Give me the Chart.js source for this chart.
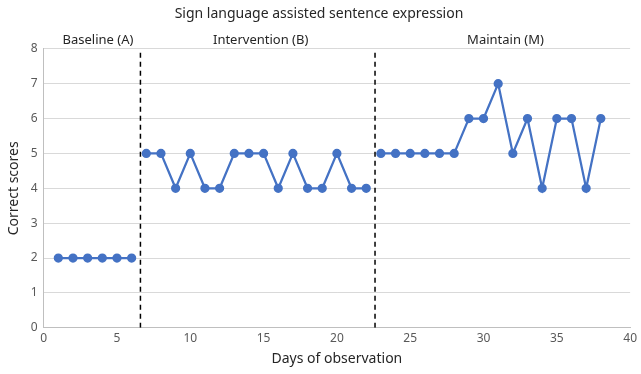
<!DOCTYPE html>
<html>
<head>
<meta charset="utf-8">
<script src="https://cdn.jsdelivr.net/npm/chart.js@4"></script>
<style>
  html, body { margin: 0; padding: 0; background: #fff; }
  #wrap { width: 641px; height: 374px; }
</style>
</head>
<body>
<div id="wrap"><canvas id="grafico"></canvas></div>
<script>
// ===== DATA =====
const diasA = [1, 2, 3, 4, 5, 6];
const notasA = [2, 2, 2, 2, 2, 2];
const diasB = [7, 8, 9, 10, 11, 12, 13, 14, 15, 16, 17, 18, 19, 20, 21, 22];
const notasB = [5, 5, 4, 5, 4, 4, 5, 5, 5, 4, 5, 4, 4, 5, 4, 4];
const diasM = [23, 24, 25, 26, 27, 28, 29, 30, 31, 32, 33, 34, 35, 36, 37, 38];
const notasM = [5, 5, 5, 5, 5, 5, 6, 6, 7, 5, 6, 4, 6, 6, 4, 6];
const fases = ['Baseline (A)', 'Intervention (B)', 'Maintain (M)'];
const faseCentro = [3.7, 14.8, 31.5];
const divisorias = [6.6, 22.6];
const xTicks = [0, 5, 10, 15, 20, 25, 30, 35, 40];
const yTicks = [0, 1, 2, 3, 4, 5, 6, 7, 8];

const FONTE = "'Noto Sans', 'Open Sans', sans-serif";
const AZUL = '#4472C4';

// ===== SÉRIES =====
function serie(dias, notas) {
  return {
    data: dias.map((d, i) => ({ x: d, y: notas[i] })),
    showLine: true,
    borderColor: AZUL,
    backgroundColor: AZUL,
    borderWidth: 2.25,
    pointRadius: 3.5,
    pointHoverRadius: 3.5
  };
}

// linhas tracejadas entre as fases
const linhasFase = divisorias.map(x => ({
  data: [{ x: x, y: yTicks[0] }, { x: x, y: yTicks[yTicks.length - 1] }],
  borderColor: '#000',
  borderWidth: 1.5,
  borderDash: [5, 4],
  pointRadius: 0,
  showLine: true
}));

// rótulos das fases acima da área do gráfico
const rotulosFase = {
  id: 'rotulosFase',
  afterDraw(c) {
    const ctx = c.ctx;
    const sx = c.scales.x;
    ctx.save();
    ctx.font = '13px ' + FONTE;
    ctx.fillStyle = '#262626';
    ctx.textAlign = 'center';
    ctx.textBaseline = 'middle';
    fases.forEach((f, i) => {
      ctx.fillText(f, sx.getPixelForValue(faseCentro[i]), c.chartArea.top - 9);
    });
    ctx.restore();
  }
};

new Chart(document.getElementById('grafico'), {
  type: 'scatter',
  data: {
    datasets: [
      serie(diasA, notasA),
      serie(diasB, notasB),
      serie(diasM, notasM),
      ...linhasFase
    ]
  },
  options: {
    responsive: true,
    maintainAspectRatio: false,
    animation: false,
    layout: { padding: { left: 6, right: 9, top: 2, bottom: 7 } },
    plugins: {
      legend: { display: false },
      tooltip: { enabled: false },
      title: {
        display: true,
        text: 'Sign language assisted sentence expression',
        color: '#262626',
        font: { family: FONTE, size: 14, weight: 'normal' },
        padding: { top: 4, bottom: 26 }
      }
    },
    scales: {
      x: {
        type: 'linear',
        min: xTicks[0],
        max: xTicks[xTicks.length - 1],
        afterBuildTicks: s => { s.ticks = xTicks.map(v => ({ value: v })); },
        grid: { display: false, drawTicks: false },
        border: { color: '#bfbfbf', width: 1 },
        ticks: { color: '#595959', font: { family: FONTE, size: 12 }, padding: 4, maxRotation: 0 },
        title: {
          display: true,
          text: 'Days of observation',
          color: '#262626',
          font: { family: FONTE, size: 14 },
          padding: { top: 0, bottom: 0 }
        }
      },
      y: {
        min: yTicks[0],
        max: yTicks[yTicks.length - 1],
        afterBuildTicks: s => { s.ticks = yTicks.map(v => ({ value: v })); },
        grid: { color: '#d9d9d9', drawTicks: false },
        border: { color: '#bfbfbf', width: 1 },
        ticks: { color: '#595959', font: { family: FONTE, size: 12 }, padding: 6 },
        title: {
          display: true,
          text: 'Correct scores',
          color: '#262626',
          font: { family: FONTE, size: 14 },
          padding: { top: 0, bottom: 2 }
        }
      }
    }
  },
  plugins: [rotulosFase]
});
</script>
</body>
</html>
